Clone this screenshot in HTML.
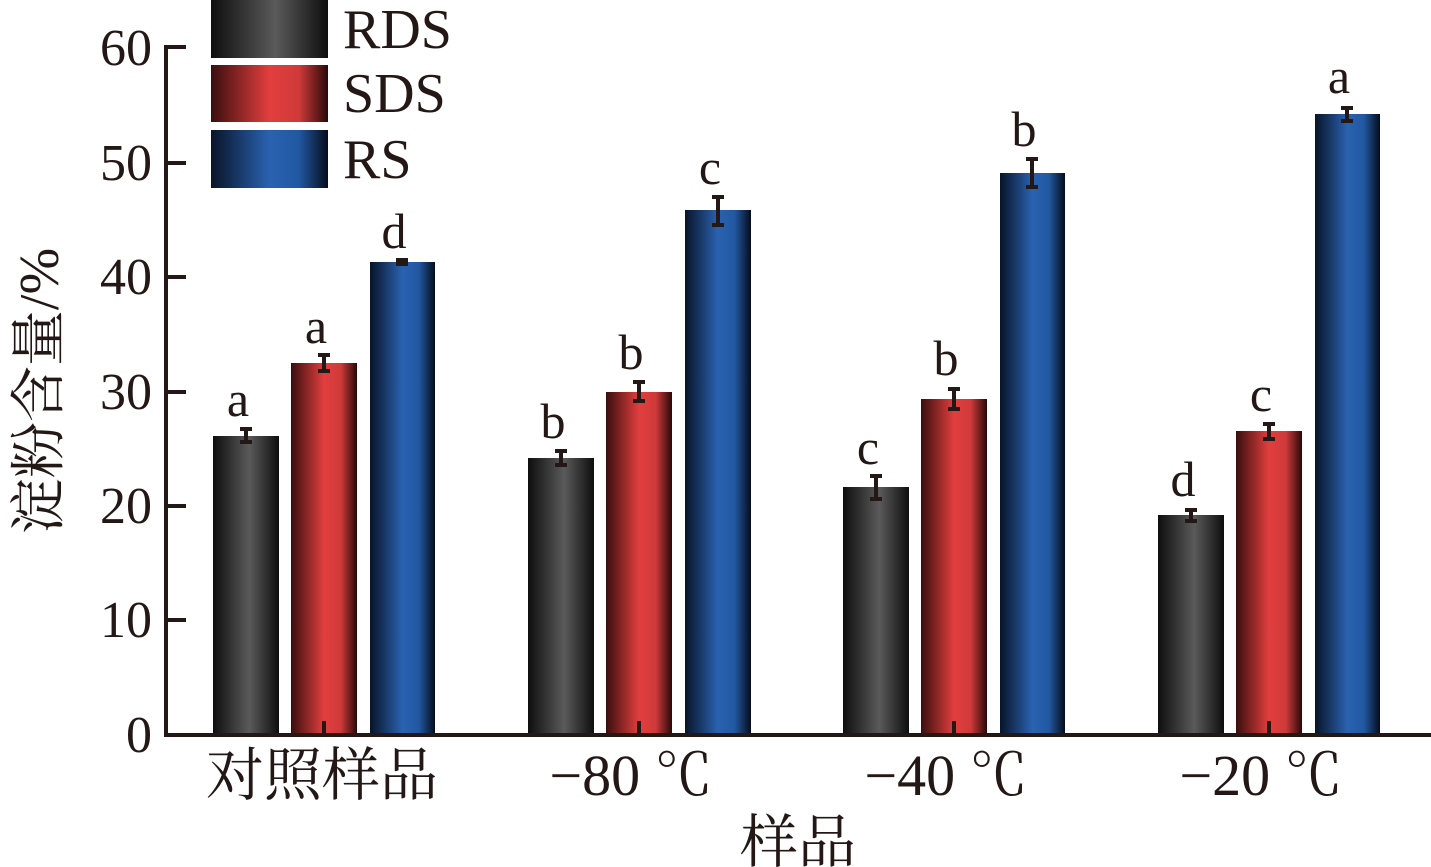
<!DOCTYPE html>
<html><head><meta charset="utf-8"><style>body{margin:0;background:#fff}svg{display:block}</style></head><body>
<svg width="1431" height="867" viewBox="0 0 1431 867" xmlns="http://www.w3.org/2000/svg" font-family="'Liberation Serif','Noto Serif CJK SC',serif" fill="#231815">
<defs>
<linearGradient id="gk" x1="0" x2="1"><stop offset="0" stop-color="#0e0e0e"/><stop offset="0.55" stop-color="#5a5a5a"/><stop offset="1" stop-color="#0e0e0e"/></linearGradient>
<linearGradient id="gr" x1="0" x2="1"><stop offset="0" stop-color="#3a0e0e"/><stop offset="0.5" stop-color="#e23e3e"/><stop offset="0.75" stop-color="#d03a3a"/><stop offset="1" stop-color="#2a0808"/></linearGradient>
<linearGradient id="gb" x1="0" x2="1"><stop offset="0" stop-color="#081428"/><stop offset="0.5" stop-color="#2a62b0"/><stop offset="0.75" stop-color="#2258a2"/><stop offset="1" stop-color="#050c1c"/></linearGradient>
</defs>
<rect x="211" y="0" width="117" height="58" fill="url(#gk)"/>
<rect x="211" y="65" width="117" height="57" fill="url(#gr)"/>
<rect x="211" y="130" width="117" height="58" fill="url(#gb)"/>
<g font-size="56"><text x="343" y="48">RDS</text><text x="343" y="112">SDS</text><text x="343" y="178">RS</text></g>
<g>
<rect x="213" y="436" width="66" height="299" fill="url(#gk)"/>
<rect x="291" y="363" width="66" height="372" fill="url(#gr)"/>
<rect x="370" y="262" width="65" height="473" fill="url(#gb)"/>
<rect x="528" y="458" width="66" height="277" fill="url(#gk)"/>
<rect x="606" y="392" width="66" height="343" fill="url(#gr)"/>
<rect x="685" y="210" width="66" height="525" fill="url(#gb)"/>
<rect x="843" y="487" width="66" height="248" fill="url(#gk)"/>
<rect x="921" y="399" width="66" height="336" fill="url(#gr)"/>
<rect x="1000" y="173" width="65" height="562" fill="url(#gb)"/>
<rect x="1158" y="515" width="66" height="220" fill="url(#gk)"/>
<rect x="1236" y="431" width="66" height="304" fill="url(#gr)"/>
<rect x="1315" y="114" width="65" height="621" fill="url(#gb)"/>
</g>
<g stroke="#231815" stroke-width="4" fill="none">
<path d="M246 429v13M240 429h12M240 442h12"/>
<path d="M324 355v16M318 355h12M318 371h12"/>
<path d="M402 260v4M396 260h12M396 264h12"/>
<path d="M561 451v14M555 451h12M555 465h12"/>
<path d="M639 382v19M633 382h12M633 401h12"/>
<path d="M718 197v28M712 197h12M712 225h12"/>
<path d="M876 476v23M870 476h12M870 499h12"/>
<path d="M954 389v20M948 389h12M948 409h12"/>
<path d="M1032 159v28M1026 159h12M1026 187h12"/>
<path d="M1191 510v11M1185 510h12M1185 521h12"/>
<path d="M1269 424v15M1263 424h12M1263 439h12"/>
<path d="M1347 108v13M1341 108h12M1341 121h12"/>
</g>
<g font-size="50" text-anchor="middle">
<text x="238" y="416">a</text><text x="316" y="343">a</text><text x="394" y="248">d</text>
<text x="553" y="438">b</text><text x="631" y="369">b</text><text x="710" y="184">c</text>
<text x="868" y="464">c</text><text x="946" y="375">b</text><text x="1024" y="146">b</text>
<text x="1183" y="496">d</text><text x="1261" y="411">c</text><text x="1339" y="93">a</text>
</g>
<g stroke="#231815" stroke-width="4" fill="none">
<path d="M166 45V735H1431"/>
<path d="M166 47h20M166 163h20M166 277h20M166 392h20M166 506h20M166 620h20"/>
<path d="M324 735v-14M639 735v-14M954 735v-14M1269 735v-14"/>
</g>
<g font-size="52" text-anchor="end">
<text x="152" y="65">60</text><text x="152" y="180">50</text><text x="152" y="294">40</text><text x="152" y="409">30</text><text x="152" y="523">20</text><text x="152" y="637">10</text><text x="152" y="752">0</text>
</g>
<g font-size="58" text-anchor="middle">
<text x="322" y="795">对照样品</text>
<text x="631" y="795">−80 ℃</text>
<text x="946" y="795">−40 ℃</text>
<text x="1261" y="795">−20 ℃</text>
<text x="798" y="862">样品</text>
</g>
<text transform="translate(58,391) rotate(-90)" font-size="56" text-anchor="middle">淀粉含量/%</text>
</svg>
</body></html>
